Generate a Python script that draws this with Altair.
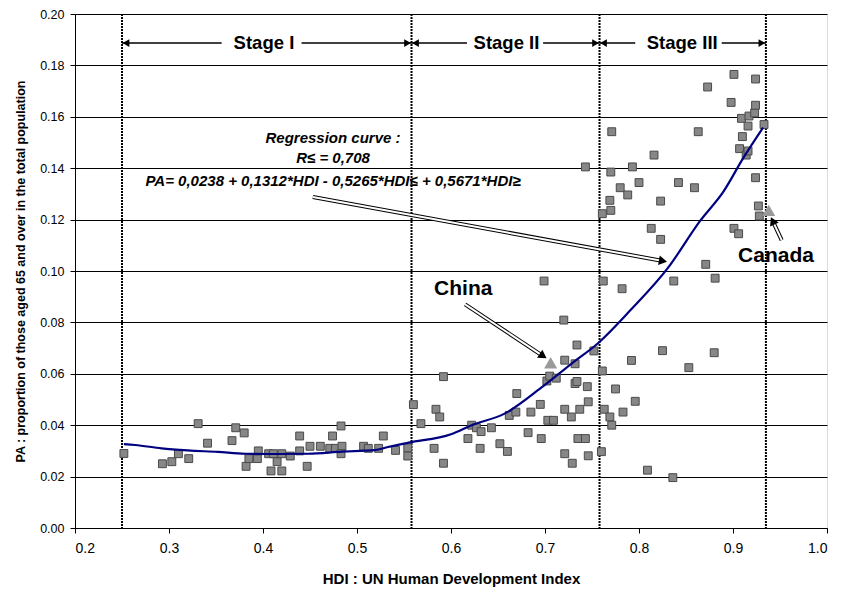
import altair as alt
import pandas as pd

# ---- scatter data: HDI vs share of population aged 65+ ----
hdi = [0.252, 0.293, 0.303, 0.310, 0.321, 0.331, 0.341, 0.367, 0.371, 0.380, 0.382, 0.385, 0.394, 0.395,
       0.406, 0.4085, 0.411, 0.415, 0.420, 0.420, 0.429, 0.439, 0.439, 0.447, 0.450, 0.461, 0.471, 0.474,
       0.477, 0.483, 0.484, 0.483, 0.507, 0.512, 0.523, 0.528, 0.541, 0.554, 0.554,
       0.560, 0.568, 0.582, 0.584, 0.588, 0.592, 0.592, 0.618, 0.622, 0.627, 0.632, 0.631, 0.643, 0.652,
       0.660, 0.662, 0.669, 0.670, 0.682, 0.685, 0.695, 0.696, 0.699, 0.702, 0.703, 0.709, 0.705, 0.712,
       0.720, 0.721, 0.721, 0.721, 0.728, 0.729, 0.732, 0.732, 0.734, 0.734, 0.735, 0.737, 0.743, 0.743,
       0.745, 0.746, 0.746, 0.752,
       0.760, 0.761, 0.762, 0.761, 0.763, 0.769, 0.769, 0.770, 0.770, 0.771, 0.771, 0.775, 0.780, 0.782,
       0.783, 0.788, 0.792, 0.793, 0.796, 0.800, 0.809, 0.813, 0.816, 0.823, 0.823, 0.825, 0.836, 0.837,
       0.842, 0.853, 0.859, 0.863, 0.871, 0.873, 0.880, 0.881, 0.898, 0.901, 0.901, 0.906, 0.907, 0.909,
       0.910, 0.914, 0.916, 0.916, 0.917, 0.923, 0.924, 0.924, 0.924, 0.927, 0.928, 0.933]
pa = [0.0290, 0.0250, 0.0258, 0.0289, 0.0270, 0.0406, 0.0330, 0.0340, 0.0390, 0.0370, 0.0240, 0.0270, 0.0270, 0.0300,
      0.0289, 0.0222, 0.0289, 0.0258, 0.0289, 0.0222, 0.0280, 0.0300, 0.0358, 0.0240, 0.0318, 0.0318, 0.0310, 0.0358,
      0.0310, 0.0397, 0.0318, 0.0289, 0.0318, 0.0310, 0.0310, 0.0358, 0.0302, 0.0312, 0.0280,
      0.0480, 0.0406, 0.0310, 0.0462, 0.0432, 0.0589, 0.0252, 0.0348, 0.0400, 0.0390, 0.0375, 0.0310, 0.0390, 0.0328,
      0.0298, 0.0438, 0.0451, 0.0523, 0.0371, 0.0451, 0.0481, 0.0348, 0.0961, 0.0572, 0.0419, 0.0419, 0.0591, 0.0583,
      0.0809, 0.0653, 0.0289, 0.0462, 0.0432, 0.0252, 0.0562, 0.0639, 0.0712, 0.0570, 0.0348, 0.0462, 0.0348, 0.1405,
      0.0550, 0.0281, 0.0491, 0.0689,
      0.0297, 0.0611, 0.0961, 0.1223, 0.0462, 0.0432, 0.1275, 0.1236, 0.1385, 0.0400, 0.1542, 0.0541, 0.1324, 0.0931,
      0.0451, 0.1296, 0.0652, 0.1405, 0.0493, 0.1344, 0.0225, 0.1166, 0.1451, 0.1272, 0.1123, 0.0690, 0.0196, 0.0961,
      0.1344, 0.0624, 0.1324, 0.1542, 0.1026, 0.1716, 0.0682, 0.0972, 0.1656, 0.1765, 0.1166, 0.1145, 0.1476, 0.1594,
      0.1523, 0.1451, 0.1467, 0.1564, 0.1603, 0.1615, 0.1747, 0.1645, 0.1363, 0.1253, 0.1214, 0.1570]

# ---- regression curve ----
curve_hdi = [0.252, 0.264, 0.292, 0.320, 0.352, 0.381, 0.411, 0.448, 0.484, 0.519, 0.533, 0.555,
             0.600, 0.622, 0.657, 0.696, 0.728, 0.757, 0.790, 0.831, 0.865, 0.890, 0.911, 0.932]
curve_pa = [0.0326, 0.0323, 0.0310, 0.0302, 0.0296, 0.0289, 0.0288, 0.0289, 0.0297, 0.0303, 0.0315, 0.0332,
            0.0365, 0.0400, 0.0445, 0.0546, 0.0639, 0.0721, 0.0844, 0.1013, 0.1195, 0.1310, 0.1440, 0.1558]

# ---- stages ----
stage_bounds = [0.25, 0.558, 0.758, 0.935]
stage_names = ["Stage I", "Stage II", "Stage III"]
stage_label_x = [0.401, 0.659, 0.846]
stage_left_from = [0.25, 0.558, 0.758]
stage_left_to = [0.356, 0.617, 0.796]
stage_right_from = [0.441, 0.698, 0.888]
stage_right_to = [0.558, 0.758, 0.935]
stage_y = 0.1887

# ---- highlighted countries ----
countries = ["China", "Canada"]
country_hdi = [0.706, 0.938]
country_pa = [0.0643, 0.1236]
country_label_x = [0.613, 0.9457]
country_label_y = [0.093, 0.1058]
arrow_x1 = [0.615, 0.9518, 0.453]
arrow_y1 = [0.087, 0.112, 0.1288]
arrow_x2 = [0.698, 0.9422, 0.8255]
arrow_y2 = [0.0669, 0.1195, 0.1039]
arrow_angle = [124, 335, 100]  # triangle-up rotated

# ---- regression text ----
reg_lines = ["Regression curve :", "R≤ = 0,708",
             "PA= 0,0238 + 0,1312*HDI - 0,5265*HDI≤ + 0,5671*HDI≥"]
reg_x = 0.4745
reg_y = [0.1517, 0.1440, 0.1352]

FONT = "Liberation Sans"
X_TITLE = "HDI : UN Human Development Index"
Y_TITLE = "PA : proportion of those aged 65 and over in the total population"
xs = alt.Scale(domain=[0.2, 1.0], nice=False, zero=False)
ys = alt.Scale(domain=[0.0, 0.2], nice=False, zero=True)

AX = alt.Axis(values=[0.2, 0.3, 0.4, 0.5, 0.6, 0.7, 0.8, 0.9, 1.0],
              format=".1f", grid=False, labelFontSize=14, titleFontSize=15, titleFontWeight="bold",
              labelPadding=8, titlePadding=16, tickSize=5, domainColor="#000000", tickColor="#000000",
              labelFont=FONT, titleFont=FONT, labelColor="#000000", titleColor="#000000")
AY = alt.Axis(values=[i * 0.02 for i in range(11)], format=".2f", grid=True, gridColor="#000000",
              gridWidth=1, labelFontSize=12.5, titleFontSize=12.5, titleFontWeight="bold",
              labelPadding=6, titlePadding=12, tickSize=5, domainColor="#000000", tickColor="#000000",
              labelFont=FONT, titleFont=FONT, labelColor="#000000", titleColor="#000000")


def X(f):
    return alt.X(f, scale=xs, axis=AX, title=X_TITLE)


def Y(f):
    return alt.Y(f, scale=ys, axis=AY, title=Y_TITLE)


pts_df = pd.DataFrame({"hdi": hdi, "pa": pa})
curve_df = pd.DataFrame({"hdi": curve_hdi, "pa": curve_pa})
bounds_df = pd.DataFrame({"x": stage_bounds})
stage_df = pd.DataFrame({"name": stage_names, "x": stage_label_x, "y": [stage_y] * 3})
segs_df = pd.DataFrame({
    "x1": stage_left_from + stage_right_from,
    "x2": stage_left_to + stage_right_to,
    "y": [stage_y] * 6,
})
lheads_df = pd.DataFrame({"x": stage_left_from, "y": [stage_y] * 3})
rheads_df = pd.DataFrame({"x": stage_right_to, "y": [stage_y] * 3})
ctry_df = pd.DataFrame({"name": countries, "x": country_hdi, "y": country_pa,
                        "lx": country_label_x, "ly": country_label_y})
arrows_df = pd.DataFrame({"x1": arrow_x1, "y1": arrow_y1, "x2": arrow_x2, "y2": arrow_y2,
                          "angle": arrow_angle})
reg_df = pd.DataFrame({"t": reg_lines, "x": [reg_x] * 3, "y": reg_y})

points = alt.Chart(pts_df).mark_square(size=62, filled=True, color="#878787", stroke="#4a4a4a",
                                       strokeWidth=1, opacity=1).encode(x=X("hdi:Q"), y=Y("pa:Q"))

vlines = alt.Chart(bounds_df).mark_rule(color="#000000", strokeWidth=2, strokeDash=[2, 1]).encode(
    x=X("x:Q"))

curve = alt.Chart(curve_df).mark_line(color="#000080", strokeWidth=2.2, interpolate="monotone").encode(
    x=X("hdi:Q"), y=Y("pa:Q"))

stage_segs = alt.Chart(segs_df).mark_rule(color="#000000", strokeWidth=1.5).encode(
    x=X("x1:Q"), x2="x2:Q", y=Y("y:Q"))
lheads = alt.Chart(lheads_df).mark_point(shape="triangle-left", filled=True, color="#000000", size=60,
                                         opacity=1, xOffset=4).encode(x=X("x:Q"), y=Y("y:Q"))
rheads = alt.Chart(rheads_df).mark_point(shape="triangle-right", filled=True, color="#000000", size=60,
                                         opacity=1, xOffset=-4).encode(x=X("x:Q"), y=Y("y:Q"))
stage_text = alt.Chart(stage_df).mark_text(font=FONT, fontSize=18.5, fontWeight="bold", color="#000000",
                                           baseline="middle", align="center").encode(
    x=X("x:Q"), y=Y("y:Q"), text="name:N")

ctry_pts = alt.Chart(ctry_df).mark_point(shape="triangle-up", filled=True, color="#9a9a9a", size=170,
                                         opacity=1).encode(x=X("x:Q"), y=Y("y:Q"))
ctry_text = alt.Chart(ctry_df).mark_text(font=FONT, fontSize=21, fontWeight="bold", color="#000000",
                                         baseline="middle", align="center").encode(
    x=X("lx:Q"), y=Y("ly:Q"), text="name:N")

shaft_outer = alt.Chart(arrows_df).mark_rule(color="#000000", strokeWidth=4).encode(
    x=X("x1:Q"), y=Y("y1:Q"), x2="x2:Q", y2="y2:Q")
shaft_inner = alt.Chart(arrows_df).mark_rule(color="#ffffff", strokeWidth=2).encode(
    x=X("x1:Q"), y=Y("y1:Q"), x2="x2:Q", y2="y2:Q")
heads = alt.Chart(arrows_df).mark_point(shape="triangle-up", filled=True, color="#000000", size=90,
                                        opacity=1).encode(
    x=X("x2:Q"), y=Y("y2:Q"), angle=alt.Angle("angle:Q", scale=None))

reg_text = alt.Chart(reg_df).mark_text(font=FONT, fontSize=15, fontWeight="bold", fontStyle="italic",
                                       color="#000000", baseline="middle", align="center").encode(
    x=X("x:Q"), y=Y("y:Q"), text="t:N")

chart = alt.layer(
    vlines, points, curve, stage_segs, lheads, rheads, stage_text,
    shaft_outer, shaft_inner, heads, ctry_pts, ctry_text, reg_text
).properties(
    width=752, height=514,
    autosize=alt.AutoSizeParams(type="none"),
    padding={"left": 67, "top": 6, "right": 6, "bottom": 60},
).configure_view(stroke="#9a9a9a", strokeWidth=1).configure(background="#ffffff")

chart.save("out.html", embed_options={"renderer": "svg", "actions": False})
